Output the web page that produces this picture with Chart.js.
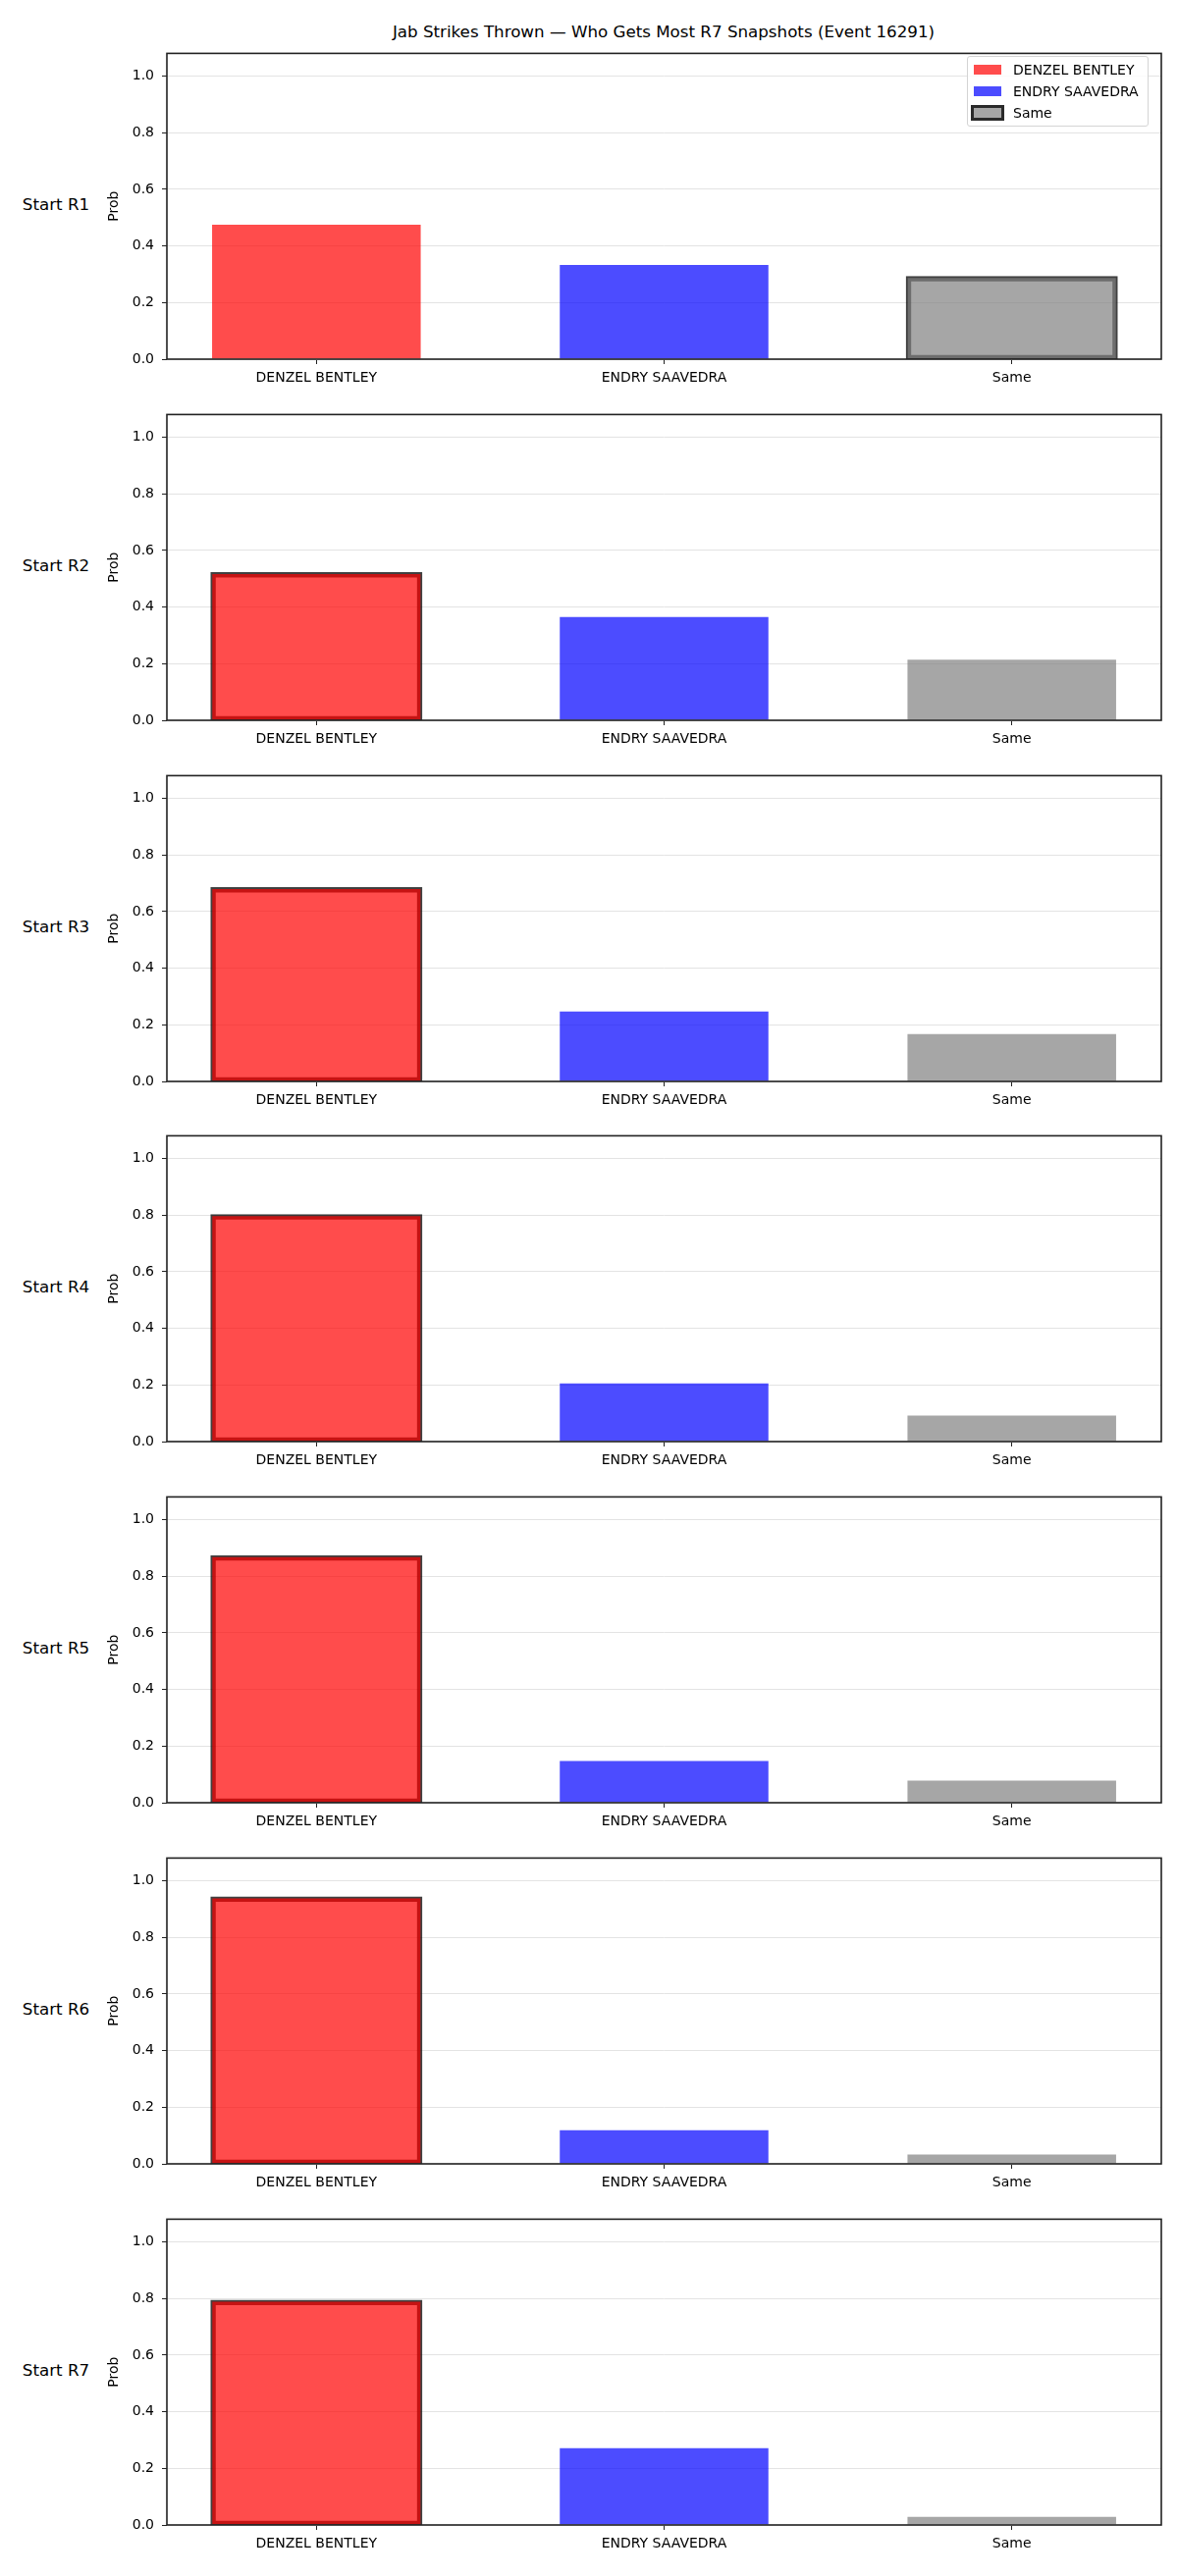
<!DOCTYPE html>
<html>
<head>
<meta charset="utf-8">
<title>Jab Strikes Thrown</title>
<script src="https://cdn.jsdelivr.net/npm/chart.js@4.4.1/dist/chart.umd.min.js"></script>
<style>
  html, body { margin: 0; padding: 0; background: #fff; }
  body { width: 1200px; height: 2625px; position: relative; overflow: hidden;
         font-family: "DejaVu Sans", sans-serif; color: #000; }
  .fig-title { position: absolute; left: 176px; width: 1000px; top: 22px; line-height: 20px;
               font-size: 16.7px; text-align: center; white-space: nowrap; }
  .row-label { position: absolute; left: 0; width: 114px; line-height: 20px; font-size: 16.7px;
               text-align: center; white-space: nowrap; }
  canvas { position: absolute; left: 0; }
  .legend { position: absolute; left: 985px; top: 57px; width: 183px; height: 70px;
            border: 1px solid #d4d4d4; border-radius: 3px; background: rgba(255,255,255,0.8); }
  .legend-row { position: absolute; left: 0; width: 183px; height: 20px; line-height: 20px; font-size: 14px; }
  .legend-row span { position: absolute; left: 46px; top: 0; white-space: nowrap; }
  .swatch { position: absolute; left: 6px; top: 5px; width: 28px; height: 10px; }
  .swatch.edge { left: 3px; top: 2px; border: 3px solid rgba(0,0,0,0.75); }
</style>
</head>
<body>
<div class="fig-title">Jab Strikes Thrown — Who Gets Most R7 Snapshots (Event 16291)</div>
<script>
/** Data **/

const categories = ["DENZEL BENTLEY", "ENDRY SAAVEDRA", "Same"];
const round_labels = ["Start R1", "Start R2", "Start R3", "Start R4", "Start R5", "Start R6", "Start R7"];

// probability per starting round, one array per outcome
const denzel_prob = [0.475, 0.517, 0.680, 0.797, 0.868, 0.938, 0.789];
const endry_prob  = [0.333, 0.365, 0.247, 0.205, 0.147, 0.119, 0.271];
const same_prob   = [0.288, 0.214, 0.167, 0.092, 0.078, 0.033, 0.029];

// which bar gets the dark outline in each row
const highlight_idx = [2, 0, 0, 0, 0, 0, 0];

const y_ticks = [0, 0.2, 0.4, 0.6, 0.8, 1.0];

/** Colors **/

const bar_colors = ["rgba(255,0,0,0.7)", "rgba(0,0,255,0.7)", "rgba(128,128,128,0.7)"];
const edge_color = "rgba(0,0,0,0.75)";
const grid_color = "#e3e3e3";
const spine_color = "#222";

/** Layout (px) **/

const first_axes_top = 50;
const panel_step = 367.8;
const axes_height = 316;
const canvas_pad_top = 12;
const canvas_height = 372;

const tick_font = { family: "DejaVu Sans", size: 14 };

// box around the plot area, drawn on top of the bars like matplotlib spines
const frame_plugin = {
    id: "frame",
    afterDatasetsDraw(chart) {
        const ctx = chart.ctx;
        const a = chart.chartArea;
        ctx.save();
        ctx.strokeStyle = spine_color;
        ctx.lineWidth = 1.6;
        ctx.strokeRect(a.left, a.top, a.right - a.left, a.bottom - a.top);
        ctx.restore();
    }
};

/** Functions **/

/**
 * Build one row of the figure: label on the left and the bar chart.
 * @param i: row index (starting round - 1)
 */
function create_panel(i) {
    const axes_top = Math.round(first_axes_top + i * panel_step);
    const values = [denzel_prob[i], endry_prob[i], same_prob[i]];
    const is_hl = k => k === highlight_idx[i];

    const label = document.createElement("div");
    label.className = "row-label";
    label.textContent = round_labels[i];
    label.style.top = (axes_top + axes_height / 2 - 10) + "px";
    document.body.appendChild(label);

    const canvas = document.createElement("canvas");
    canvas.width = 1200;
    canvas.height = canvas_height;
    canvas.style.top = (axes_top - canvas_pad_top) + "px";
    document.body.appendChild(canvas);

    new Chart(canvas, {
        type: "bar",
        data: {
            datasets: [{
                data: values.map((v, k) => ({ x: k, y: v })),
                backgroundColor: bar_colors,
                borderColor: edge_color,
                // edge straddles the bar outline, like a matplotlib edge
                borderWidth: values.map((v, k) => is_hl(k) ? 2 : 0),
                inflateAmount: values.map((v, k) => is_hl(k) ? 1.75 : "auto"),
                borderSkipped: false,
                categoryPercentage: 1,
                barPercentage: 0.6
            }]
        },
        options: {
            responsive: false,
            animation: false,
            devicePixelRatio: 1,
            layout: { padding: { left: 108, right: 17, top: canvas_pad_top, bottom: 0 } },
            plugins: { legend: { display: false }, tooltip: { enabled: false } },
            scales: {
                x: {
                    type: "linear",
                    offset: false,
                    bounds: "data",
                    min: -0.43,
                    max: 2.43,
                    afterBuildTicks: s => { s.ticks = categories.map((c, k) => ({ value: k })); },
                    afterFit: s => { s.height = canvas_height - canvas_pad_top - axes_height; },
                    grid: { offset: false, drawOnChartArea: false, tickColor: spine_color, tickLength: 5 },
                    border: { display: false },
                    ticks: {
                        callback: v => categories[v],
                        font: tick_font, color: "#000", padding: 6,
                        maxRotation: 0, autoSkip: false
                    }
                },
                y: {
                    min: 0,
                    max: 1.08,
                    afterBuildTicks: s => { s.ticks = y_ticks.map(v => ({ value: v })); },
                    afterFit: s => { s.width = 62; },
                    grid: { color: grid_color, tickColor: spine_color, tickLength: 5 },
                    border: { display: false },
                    ticks: { callback: v => v.toFixed(1), font: tick_font, color: "#000", padding: 8 },
                    title: { display: true, text: "Prob", font: tick_font, color: "#000", padding: 0 }
                }
            }
        },
        plugins: [frame_plugin]
    });
}

function build_legend() {
    const box = document.createElement("div");
    box.className = "legend";
    categories.forEach(function(name, k) {
        const row = document.createElement("div");
        row.className = "legend-row";
        row.style.top = (3 + 22 * k) + "px";
        const sw = document.createElement("div");
        sw.className = "swatch" + (k === highlight_idx[0] ? " edge" : "");
        sw.style.background = bar_colors[k];
        const txt = document.createElement("span");
        txt.textContent = name;
        row.appendChild(sw);
        row.appendChild(txt);
        box.appendChild(row);
    });
    document.body.appendChild(box);
}

round_labels.forEach((r, i) => create_panel(i));
build_legend();
</script>
</body>
</html>
